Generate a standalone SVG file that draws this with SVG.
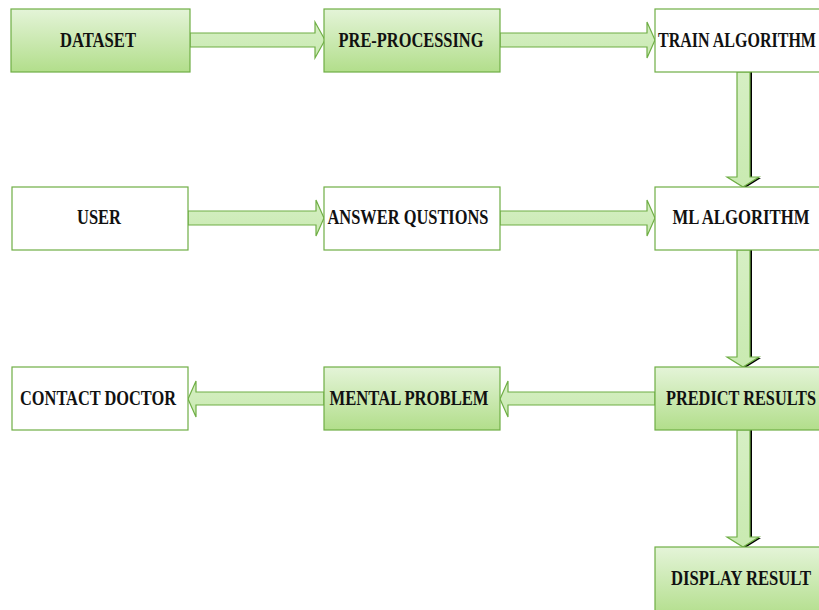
<svg xmlns="http://www.w3.org/2000/svg" width="819" height="610" viewBox="0 0 819 610">
<style>
.g{fill:url(#gr);stroke:#6fae45;stroke-width:1.2}
.w{fill:#ffffff;stroke:#6fae45;stroke-width:1.2}
.t{font-family:"Liberation Serif","Times New Roman",serif;font-weight:bold;font-size:16px;fill:#111;text-anchor:middle}
.a{fill:url(#ag);stroke:#6fae45;stroke-width:1.2}
.s{fill:#000}
</style>
<defs>
<linearGradient id="gr" x1="0" y1="0" x2="0" y2="1">
<stop offset="0" stop-color="#e4f4d8"/>
<stop offset="1" stop-color="#b2de8b"/>
</linearGradient>
<linearGradient id="ag" x1="0" y1="0" x2="0" y2="1">
<stop offset="0" stop-color="#d6efc4"/>
<stop offset="1" stop-color="#c9eab1"/>
</linearGradient>
</defs>
<g id="connectors">
<polygon class="a" points="190,33 315,33 315,22 325,40 315,58 315,47 190,47"/>
<polygon class="a" points="500,33 647,33 647,22 655,40 647,58 647,47 500,47"/>
<polygon class="a" points="188,211 316,211 316,200 324,218 316,236 316,225 188,225"/>
<polygon class="a" points="500,211 647,211 647,200 655,218 647,236 647,225 500,225"/>
<polygon class="a" points="655,392 508,392 508,381 500,399 508,417 508,405 655,405"/>
<polygon class="a" points="324,392 196,392 196,381 188,399 196,417 196,405 324,405"/>
<polygon class="s" points="739,72 752,72 752,178 761,178 745,188 729,178 739,178"/>
<polygon class="a" points="737,72 750,72 750,177 759,177 743,187 727,177 737,177"/>
<polygon class="s" points="739,250 752,250 752,358 761,358 745,368 729,358 739,358"/>
<polygon class="a" points="737,250 750,250 750,357 759,357 743,367 727,357 737,357"/>
<polygon class="s" points="739,430 752,430 752,538 761,538 745,548 729,538 739,538"/>
<polygon class="a" points="737,430 750,430 750,537 759,537 743,547 727,537 737,537"/>
</g>
<g id="dataset"><rect class="g" x="11" y="9" width="179" height="63"/><text class="t" transform="translate(98,47) scale(1,1.25)" x="0" y="0" textLength="76" lengthAdjust="spacingAndGlyphs">DATASET</text></g>
<g id="preprocessing"><rect class="g" x="324" y="9" width="176" height="63"/><text class="t" transform="translate(411,47) scale(1,1.25)" x="0" y="0" textLength="145" lengthAdjust="spacingAndGlyphs">PRE-PROCESSING</text></g>
<g id="train"><rect class="w" x="655" y="9" width="170" height="63"/><text class="t" transform="translate(737,47) scale(1,1.25)" x="0" y="0" textLength="158" lengthAdjust="spacingAndGlyphs">TRAIN ALGORITHM</text></g>
<g id="user"><rect class="w" x="12" y="187" width="176" height="63"/><text class="t" transform="translate(99,224) scale(1,1.25)" x="0" y="0" textLength="44" lengthAdjust="spacingAndGlyphs">USER</text></g>
<g id="answer"><rect class="w" x="324" y="187" width="176" height="63"/><text class="t" transform="translate(408,224) scale(1,1.25)" x="0" y="0" textLength="161" lengthAdjust="spacingAndGlyphs">ANSWER QUSTIONS</text></g>
<g id="ml"><rect class="w" x="655" y="187" width="170" height="63"/><text class="t" transform="translate(741,224) scale(1,1.25)" x="0" y="0" textLength="137" lengthAdjust="spacingAndGlyphs">ML ALGORITHM</text></g>
<g id="contact"><rect class="w" x="12" y="367" width="176" height="63"/><text class="t" transform="translate(98,405) scale(1,1.25)" x="0" y="0" textLength="156" lengthAdjust="spacingAndGlyphs">CONTACT DOCTOR</text></g>
<g id="mental"><rect class="g" x="324" y="367" width="176" height="63"/><text class="t" transform="translate(409,405) scale(1,1.25)" x="0" y="0" textLength="159" lengthAdjust="spacingAndGlyphs">MENTAL PROBLEM</text></g>
<g id="predict"><rect class="g" x="655" y="367" width="170" height="63"/><text class="t" transform="translate(741,405) scale(1,1.25)" x="0" y="0" textLength="150" lengthAdjust="spacingAndGlyphs">PREDICT RESULTS</text></g>
<g id="display"><rect class="g" x="655" y="547" width="170" height="70"/><text class="t" transform="translate(741,585) scale(1,1.25)" x="0" y="0" textLength="140" lengthAdjust="spacingAndGlyphs">DISPLAY RESULT</text></g>
</svg>
